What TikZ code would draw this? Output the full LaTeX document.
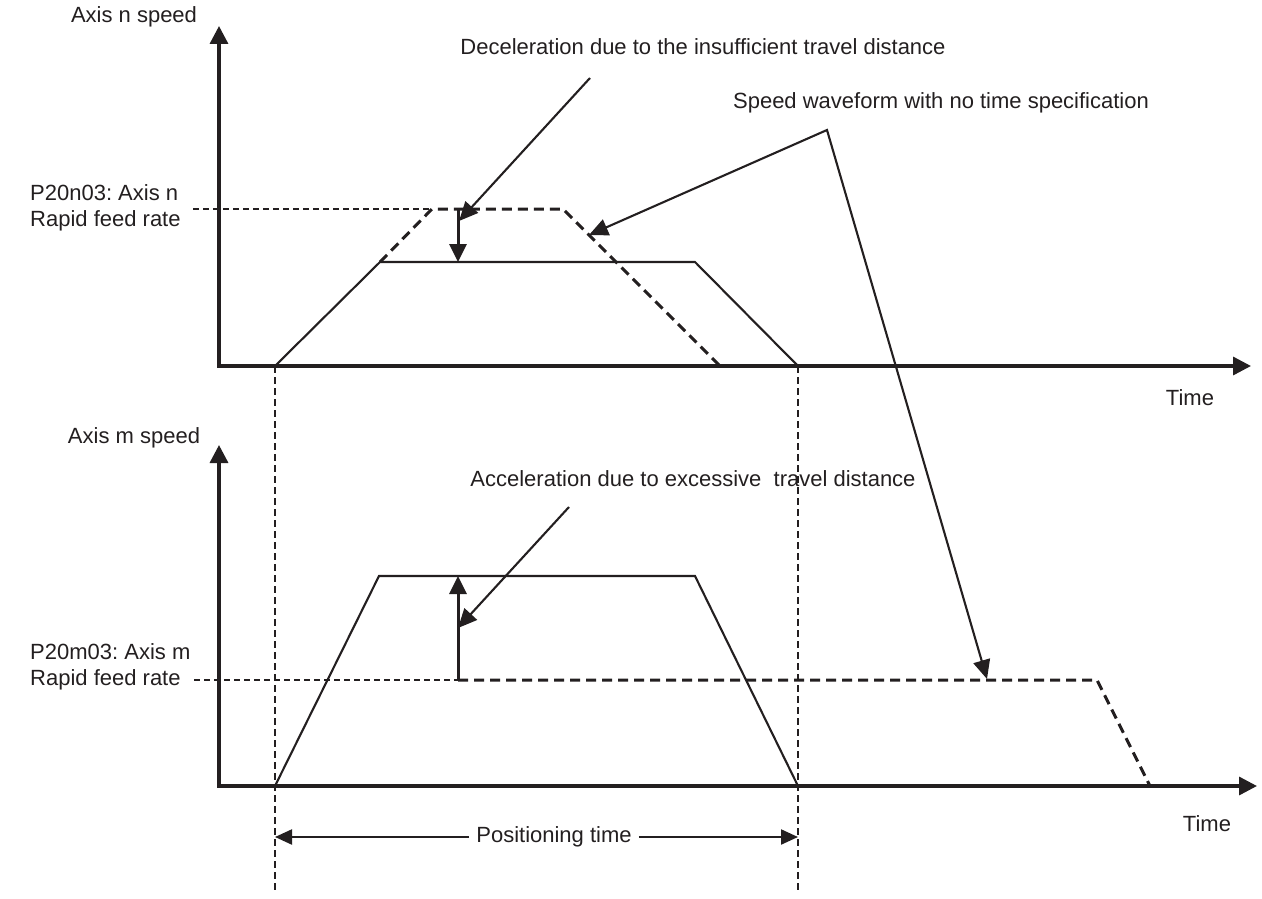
\documentclass[tikz,border=0pt]{standalone}
\usepackage{fontspec}
\setmainfont{Liberation Sans}
\usetikzlibrary{arrows.meta}
\definecolor{inkc}{HTML}{231F20}
\frenchspacing
\begin{document}
\begin{tikzpicture}[x=1pt,y=-1pt,
  axisline/.style={draw=inkc,line width=3.4pt,line join=miter,{Triangle[length=18pt,width=18pt]}-{Triangle[length=18pt,width=18pt]}},
  wave/.style={draw=inkc,line width=2.1pt,line join=miter},
  nospec/.style={draw=inkc,line width=3pt,dash pattern=on 10pt off 6pt},
  level/.style={draw=inkc,line width=2pt,dash pattern=on 6pt off 4pt},
  guide/.style={draw=inkc,line width=2pt,dash pattern=on 7pt off 4pt},
  pointer/.style={draw=inkc,line width=2.1pt,line join=miter,-{Triangle[length=19pt,width=17pt]}},
  ptr2/.style={draw=inkc,line width=2.1pt,line join=miter,{Triangle[length=19pt,width=17pt]}-{Triangle[length=19pt,width=17pt]}},
  delta/.style={draw=inkc,line width=3pt,-{Triangle[length=18pt,width=17pt]}},
  span/.style={draw=inkc,line width=2.2pt,-{Triangle[length=17pt,width=15pt]}},
  lbl/.style={text=inkc,font=\fontsize{22}{26}\selectfont,inner sep=0pt},
]
\useasboundingbox (0,0) rectangle (1262,899);
% ---------- top graph ----------
\coordinate (Y1) at (219,26);
\coordinate (X1) at (1251,366);
\draw[axisline] (Y1) |- (X1);
% guides
\coordinate (gLt) at (275,366); \coordinate (gLb) at (275,892);
\coordinate (gRt) at (798,366); \coordinate (gRb) at (798,892);
\draw[guide] (gLt) -- (gLb);
\draw[guide] (gRt) -- (gRb);
% top rapid level
\coordinate (nL) at (193,209);
\coordinate (nA) at (432,209);
\coordinate (nB) at (563,209);
\coordinate (nC) at (720,366);
\draw[level] (nL) -- (nA);
% top actual waveform
\coordinate (s0) at (275,366);
\coordinate (s1) at (380,262);
\coordinate (s2) at (695,262);
\coordinate (s3) at (798,366);
\draw[wave] (s0) -- (s1) -- (s2) -- (s3);
\draw[nospec] (s1) -- (nA) -- (nB) -- (nC);
% deceleration arrow
\coordinate (dT) at (458,209);
\coordinate (dB) at (458,262);
\draw[delta] (dT) -- (dB);
% ---------- bottom graph ----------
\coordinate (Y2) at (219,445);
\coordinate (X2) at (1257,786);
\draw[axisline] (Y2) |- (X2);
\coordinate (mL) at (194,680);
\coordinate (mA) at (458,680);
\coordinate (mB) at (1097,680);
\coordinate (mC) at (1150,786);
\draw[level] (mL) -- (mA);
\draw[nospec] (mA) -- (mB) -- (mC);
\coordinate (b0) at (275,786);
\coordinate (b1) at (379,576);
\coordinate (b2) at (695,576);
\coordinate (b3) at (798,786);
\draw[wave] (b0) -- (b1) -- (b2) -- (b3);
\coordinate (aT) at (458,576);
\draw[delta] (mA) -- (aT);
% ---------- labels ----------
\node[lbl] (ny) at (134,17) {Axis n speed};
\node[lbl,anchor=west,align=left] (nr) at (30,208) {P20n03: Axis n\\Rapid feed rate};
\node[lbl] (dec) at (703,47) {Deceleration due to the insufficient travel distance};
\node[lbl] (spd) at (941,103) {Speed waveform with no time specification};
\node[lbl] (t1) at (1190,398) {Time};
\node[lbl] (my) at (134,438) {Axis m speed};
\node[lbl,anchor=west,align=left] (mr) at (30,667) {P20m03: Axis m\\Rapid feed rate};
\node[lbl] (acc) at (693,479) {Acceleration due to excessive\ \ travel distance};
\node[lbl] (t2) at (1207,824) {Time};
\node[lbl,inner xsep=7pt] (pt) at (554,837) {Positioning time};
% ---------- pointers ----------
\coordinate (decS) at (590,78);
\coordinate (decE) at (459,221);
\draw[pointer] (decS) -- (decE);
\coordinate (spdV) at (827,130);
\coordinate (spdA) at (589,235);
\coordinate (spdB) at (987,679);
\draw[ptr2] (spdA) -- (spdV) -- (spdB);
\coordinate (accS) at (569,507);
\coordinate (accE) at (458,628);
\draw[pointer] (accS) -- (accE);
\coordinate (ptL) at (275,837);
\coordinate (ptR) at (798,837);
\draw[span] (pt.west) -- (ptL);
\draw[span] (pt.east) -- (ptR);
\end{tikzpicture}
\end{document}
